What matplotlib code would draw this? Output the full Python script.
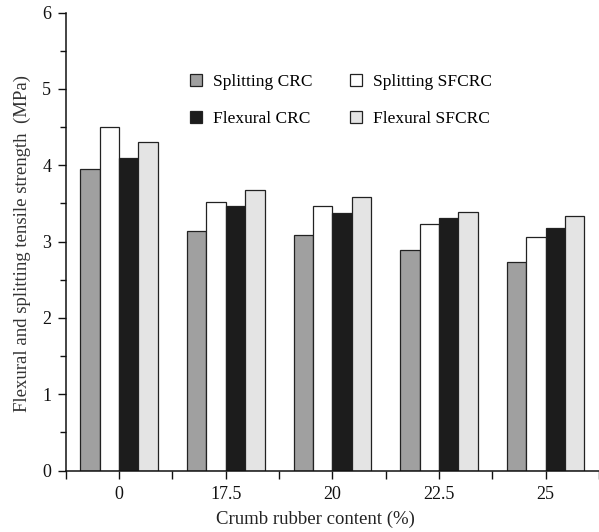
import numpy as np
import matplotlib
matplotlib.use("Agg")
import matplotlib.pyplot as plt
from matplotlib.ticker import MultipleLocator

# データ
contents = ["0", "17.5", "20", "22.5", "25"]
splitting_crc = [3.95, 3.14, 3.08, 2.89, 2.73]
splitting_sfcrc = [4.50, 3.52, 3.46, 3.23, 3.06]
flexural_crc = [4.10, 3.47, 3.37, 3.31, 3.18]
flexural_sfcrc = [4.31, 3.67, 3.58, 3.39, 3.33]
series_names = ["Splitting CRC", "Splitting SFCRC", "Flexural CRC", "Flexural SFCRC"]

plt.rcParams["font.family"] = ["Liberation Serif", "DejaVu Serif"]

fig = plt.figure(figsize=(5.99, 5.32), dpi=100)
ax = fig.add_axes([0.1097, 0.1156, 0.8903, 0.8609])

x = np.arange(len(contents))
w = 0.182
colors = ["#a0a0a0", "#ffffff", "#1c1c1c", "#e4e4e4"]
series = [splitting_crc, splitting_sfcrc, flexural_crc, flexural_sfcrc]

bars = []
for i, (vals, c, name) in enumerate(zip(series, colors, series_names)):
    b = ax.bar(x + (i - 1.5) * w, vals, width=w, color=c,
               edgecolor="#222222", linewidth=0.9, label=name)
    bars.append(b)

# 軸
ax.set_xlim(-0.5, 4.5)
ax.set_ylim(0, 6)
ax.set_xticks(x)
ax.set_xticklabels(contents)
ax.xaxis.set_minor_locator(MultipleLocator(0.5))
ax.yaxis.set_major_locator(MultipleLocator(1))
ax.yaxis.set_minor_locator(MultipleLocator(0.5))
ax.tick_params(axis="both", which="both", direction="out", width=1.0,
               labelsize=13, colors="#111111")
ax.tick_params(axis="x", which="both", length=5.5, pad=6)
ax.tick_params(axis="y", which="major", length=5.5, pad=5)
ax.tick_params(axis="y", which="minor", length=4)

for s in ["top", "right"]:
    ax.spines[s].set_visible(False)
for s in ["left", "bottom"]:
    ax.spines[s].set_linewidth(1.1)
    ax.spines[s].set_color("#111111")

ax.set_xlabel("Crumb rubber content (%)", fontsize=13.5, color="#222222")
ax.xaxis.set_label_coords(0.469, -0.088)
ax.set_ylabel("Flexural and splitting tensile strength  (MPa)", fontsize=13.5, color="#333333")
ax.yaxis.set_label_coords(-0.066, 0.495)

# 凡例（行ごとに並べる）
order = [0, 2, 1, 3]
ax.legend([bars[i] for i in order], [series_names[i] for i in order],
          ncol=2, frameon=False, fontsize=12.5,
          loc="upper left", bbox_to_anchor=(0.233, 0.866),
          borderpad=0, borderaxespad=0,
          handlelength=0.7, handleheight=0.7, handletextpad=0.6,
          columnspacing=2.2, labelspacing=1.2)

plt.savefig("out.png", dpi=100)
